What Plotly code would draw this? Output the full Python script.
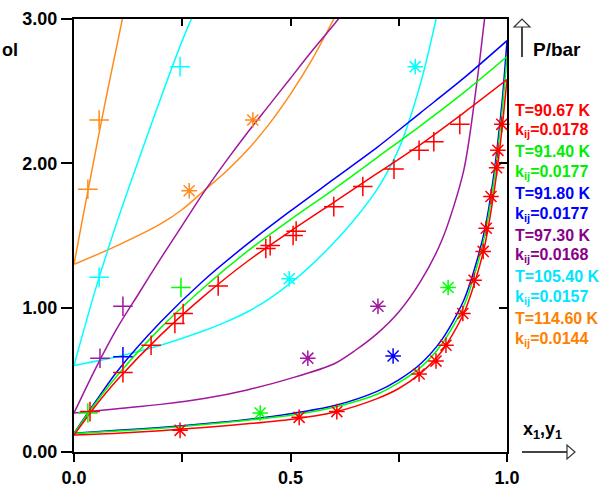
import plotly.graph_objects as go

# ---------------- data ----------------
temps = ["T=90.67 K", "T=91.40 K", "T=91.80 K", "T=97.30 K", "T=105.40 K", "T=114.60 K"]
kijs = ["0.0178", "0.0177", "0.0177", "0.0168", "0.0157", "0.0144"]
text_colors = ["#ff0000", "#00ee00", "#0000ff", "#880088", "#00e5ff", "#ff7f00"]
line_colors = ["#ff0000", "#00ff00", "#0000ff", "#a0189f", "#00ffff", "#ff8c1a"]

# bubble curves (P vs x1)
red_bub_x = [0, 0.05, 0.1, 0.2, 0.3, 0.4, 0.5, 0.6, 0.7, 0.8, 0.9, 1.0]
red_bub_p = [0.117, 0.32, 0.50, 0.81, 1.08, 1.32, 1.53, 1.73, 1.93, 2.13, 2.35, 2.58]
green_bub_x = [0, 0.05, 0.1, 0.2, 0.3, 0.4, 0.5, 0.6, 0.7, 0.8, 0.9, 1.0]
green_bub_p = [0.128, 0.34, 0.53, 0.86, 1.14, 1.39, 1.61, 1.82, 2.04, 2.26, 2.49, 2.74]
blue_bub_x = [0, 0.05, 0.1, 0.2, 0.3, 0.4, 0.5, 0.6, 0.7, 0.8, 0.9, 1.0]
blue_bub_p = [0.13, 0.35, 0.56, 0.90, 1.19, 1.44, 1.67, 1.89, 2.11, 2.35, 2.59, 2.85]
purple_bub_x = [0, 0.05, 0.1, 0.15, 0.2, 0.25, 0.3, 0.35, 0.4, 0.45, 0.5, 0.55, 0.6, 0.65]
purple_bub_p = [0.27, 0.58, 0.86, 1.10, 1.34, 1.57, 1.80, 2.01, 2.21, 2.40, 2.59, 2.78, 2.96, 3.15]
cyan_bub_x = [0, 0.05, 0.1, 0.15, 0.2, 0.25, 0.3]
cyan_bub_p = [0.60, 1.13, 1.60, 2.03, 2.45, 2.85, 3.20]
orange_bub_x = [0, 0.02, 0.04, 0.06, 0.08, 0.1, 0.12]
orange_bub_p = [1.30, 1.62, 1.93, 2.24, 2.54, 2.83, 3.12]

# dew curves (P vs y1)
red_dew_x = [0, 0.1, 0.2, 0.3, 0.4, 0.5, 0.6, 0.7, 0.75, 0.8, 0.85, 0.9, 0.93, 0.95, 0.97, 0.98, 0.99, 1.0]
red_dew_p = [0.117, 0.13, 0.148, 0.17, 0.195, 0.225, 0.275, 0.37, 0.44, 0.545, 0.70, 0.96, 1.22, 1.45, 1.80, 2.02, 2.28, 2.58]
green_dew_x = [0, 0.1, 0.2, 0.3, 0.4, 0.5, 0.6, 0.7, 0.75, 0.8, 0.85, 0.9, 0.93, 0.95, 0.97, 0.98, 0.99, 1.0]
green_dew_p = [0.128, 0.145, 0.165, 0.19, 0.22, 0.255, 0.31, 0.40, 0.48, 0.585, 0.75, 1.01, 1.28, 1.52, 1.88, 2.12, 2.40, 2.74]
blue_dew_x = [0, 0.1, 0.2, 0.3, 0.4, 0.5, 0.6, 0.7, 0.75, 0.8, 0.85, 0.9, 0.93, 0.95, 0.97, 0.98, 0.99, 1.0]
blue_dew_p = [0.13, 0.15, 0.17, 0.195, 0.225, 0.265, 0.32, 0.42, 0.50, 0.61, 0.78, 1.05, 1.32, 1.56, 1.93, 2.18, 2.47, 2.85]
purple_dew_x = [0, 0.1, 0.2, 0.3, 0.4, 0.5, 0.6, 0.65, 0.7, 0.75, 0.8, 0.85, 0.9, 0.93, 0.95]
purple_dew_p = [0.27, 0.30, 0.33, 0.37, 0.43, 0.51, 0.61, 0.705, 0.82, 0.97, 1.18, 1.47, 1.95, 2.55, 3.05]
cyan_dew_x = [0, 0.1, 0.2, 0.3, 0.35, 0.4, 0.45, 0.5, 0.55, 0.6, 0.65, 0.7, 0.75, 0.8, 0.84]
cyan_dew_p = [0.60, 0.66, 0.74, 0.84, 0.90, 0.97, 1.06, 1.17, 1.30, 1.45, 1.62, 1.82, 2.10, 2.55, 3.05]
orange_dew_x = [0, 0.1, 0.2, 0.25, 0.3, 0.35, 0.4, 0.45, 0.5, 0.55, 0.6]
orange_dew_p = [1.30, 1.43, 1.58, 1.68, 1.81, 1.94, 2.09, 2.27, 2.48, 2.72, 3.00]

# experimental points: liquid (+) and vapour (*)
red_plus_x = [0.037, 0.113, 0.178, 0.233, 0.252, 0.333, 0.443, 0.453, 0.506, 0.513, 0.60, 0.667, 0.739, 0.797, 0.831, 0.891]
red_plus_p = [0.28, 0.55, 0.74, 0.89, 0.96, 1.15, 1.41, 1.43, 1.50, 1.53, 1.70, 1.84, 1.96, 2.09, 2.15, 2.27]
red_star_x = [0.245, 0.52, 0.607, 0.797, 0.836, 0.859, 0.898, 0.924, 0.945, 0.952, 0.963, 0.976, 0.979, 0.988]
red_star_p = [0.15, 0.24, 0.28, 0.54, 0.63, 0.74, 0.96, 1.19, 1.39, 1.55, 1.77, 1.97, 2.09, 2.27]
green_plus_x = [0.032, 0.247]
green_plus_p = [0.27, 1.14]
green_star_x = [0.43, 0.864]
green_star_p = [0.27, 1.14]
blue_plus_x = [0.113]
blue_plus_p = [0.66]
blue_star_x = [0.737]
blue_star_p = [0.665]
purple_plus_x = [0.06, 0.113]
purple_plus_p = [0.65, 1.01]
purple_star_x = [0.54, 0.702]
purple_star_p = [0.65, 1.01]
cyan_plus_x = [0.058, 0.245]
cyan_plus_p = [1.21, 2.67]
cyan_star_x = [0.497, 0.788]
cyan_star_p = [1.20, 2.67]
orange_plus_x = [0.032, 0.058]
orange_plus_p = [1.82, 2.30]
orange_star_x = [0.266, 0.413]
orange_star_p = [1.81, 2.30]

y_ticks = [0, 1, 2, 3]
y_ticktext = ["0.00", "1.00", "2.00", "3.00"]
x_ticks = [0, 0.25, 0.5, 0.75, 1.0]
x_ticktext = ["0.0", "", "0.5", "", "1.0"]

# ---------------- figure ----------------
FONT = "Liberation Sans, Arial, sans-serif"
fig = go.Figure()

curves = [
    (red_bub_x, red_bub_p, red_dew_x, red_dew_p),
    (green_bub_x, green_bub_p, green_dew_x, green_dew_p),
    (blue_bub_x, blue_bub_p, blue_dew_x, blue_dew_p),
    (purple_bub_x, purple_bub_p, purple_dew_x, purple_dew_p),
    (cyan_bub_x, cyan_bub_p, cyan_dew_x, cyan_dew_p),
    (orange_bub_x, orange_bub_p, orange_dew_x, orange_dew_p),
]
points = [
    (red_plus_x, red_plus_p, red_star_x, red_star_p),
    (green_plus_x, green_plus_p, green_star_x, green_star_p),
    (blue_plus_x, blue_plus_p, blue_star_x, blue_star_p),
    (purple_plus_x, purple_plus_p, purple_star_x, purple_star_p),
    (cyan_plus_x, cyan_plus_p, cyan_star_x, cyan_star_p),
    (orange_plus_x, orange_plus_p, orange_star_x, orange_star_p),
]

for i in reversed(range(6)):
    c = line_colors[i]
    bx, bp, dx, dp = curves[i]
    fig.add_trace(go.Scatter(x=bx, y=bp, mode="lines", line=dict(color=c, width=1.5, shape="spline", smoothing=0.8),
                             showlegend=False, hoverinfo="skip"))
    fig.add_trace(go.Scatter(x=dx, y=dp, mode="lines", line=dict(color=c, width=1.5, shape="spline", smoothing=0.8),
                             showlegend=False, hoverinfo="skip"))
for i in reversed(range(6)):
    c = line_colors[i]
    px_, pp, sx, sp = points[i]
    fig.add_trace(go.Scatter(x=px_, y=pp, mode="markers",
                             marker=dict(symbol="cross-thin-open", size=14, color=c, line=dict(color=c, width=1.5)),
                             showlegend=False, cliponaxis=False))
    fig.add_trace(go.Scatter(x=sx, y=sp, mode="markers",
                             marker=dict(symbol="asterisk-open", size=13, color=c, line=dict(color=c, width=1.5)),
                             showlegend=False, cliponaxis=False))

# empty trace so the mirrored (top/right) axes are drawn
fig.add_trace(go.Scatter(x=[], y=[], xaxis="x2", yaxis="y2", showlegend=False))

axis_common = dict(showgrid=False, zeroline=False, showline=True, linecolor="black", linewidth=2,
                   tickcolor="black", tickwidth=2, automargin=False)

fig.update_layout(
    width=611, height=488,
    margin=dict(l=74, r=104, t=19, b=36, autoexpand=False),
    paper_bgcolor="white", plot_bgcolor="white",
    font=dict(family=FONT, size=18, color="black"),
    xaxis=dict(range=[0, 1], tickvals=x_ticks, ticktext=x_ticktext, ticks="outside", ticklen=8,
               tickfont=dict(family=FONT, size=18, color="black", weight="bold"), **axis_common),
    yaxis=dict(range=[0, 3], tickvals=y_ticks, ticktext=y_ticktext, ticks="outside", ticklen=11,
               tickfont=dict(family=FONT, size=18, color="black", weight="bold"), **axis_common),
    xaxis2=dict(range=[0, 1], overlaying="x", side="top", tickvals=x_ticks, ticks="inside", ticklen=7,
                showticklabels=False, **axis_common),
    yaxis2=dict(range=[0, 3], overlaying="y", side="right", tickvals=y_ticks, ticks="inside", ticklen=8,
                showticklabels=False, **axis_common),
)

# legend text (annotations)
ann = []
for i in range(6):
    y0 = 110 + 41.7 * i
    ann.append(dict(x=(513 - 74) / 433, y=(452 - y0) / 433, xref="paper", yref="paper", xanchor="left",
                    yanchor="middle", showarrow=False, text="<b>" + temps[i] + "</b>",
                    font=dict(family=FONT, size=16, color=text_colors[i])))
    ann.append(dict(x=(513 - 74) / 433, y=(452 - y0 - 20.8) / 433, xref="paper", yref="paper", xanchor="left",
                    yanchor="middle", showarrow=False, text="<b>k<sub>ij</sub>=" + kijs[i] + "</b>",
                    font=dict(family=FONT, size=16, color=text_colors[i])))
ann.append(dict(x=(531 - 74) / 433, y=(452 - 49) / 433, xref="paper", yref="paper", xanchor="left",
                yanchor="middle", showarrow=False, text="<b>P/bar</b>", font=dict(family=FONT, size=19, color="black")))
ann.append(dict(x=(521 - 74) / 433, y=(452 - 430) / 433, xref="paper", yref="paper", xanchor="left",
                yanchor="middle", showarrow=False, text="<b>x<sub>1</sub>,y<sub>1</sub></b>",
                font=dict(family=FONT, size=18, color="black")))
ann.append(dict(x=(0 - 74) / 433, y=(452 - 50) / 433, xref="paper", yref="paper", xanchor="left",
                yanchor="middle", showarrow=False, text="<b>ol</b>", font=dict(family=FONT, size=18, color="black")))
fig.update_layout(annotations=ann)

def px(xp):
    return (xp - 74) / 433

def py(yp):
    return (452 - yp) / 433

shapes = [
    dict(type="line", xref="paper", yref="paper", x0=px(522), x1=px(522), y0=py(57), y1=py(27),
         line=dict(color="#444", width=2)),
    dict(type="path", xref="paper", yref="paper",
         path=f"M {px(514)},{py(27)} L {px(530)},{py(27)} L {px(522)},{py(19)} Z",
         line=dict(color="#333", width=1.2), fillcolor="white"),
    dict(type="line", xref="paper", yref="paper", x0=px(522), x1=px(567), y0=py(452), y1=py(452),
         line=dict(color="#444", width=2)),
    dict(type="path", xref="paper", yref="paper",
         path=f"M {px(567)},{py(445)} L {px(567)},{py(459)} L {px(575)},{py(452)} Z",
         line=dict(color="#333", width=1.2), fillcolor="white"),
]
fig.update_layout(shapes=shapes)

fig.write_html("out.html", config={"displayModeBar": False},
               post_script="document.body.style.margin='0';document.body.style.overflow='hidden';")
